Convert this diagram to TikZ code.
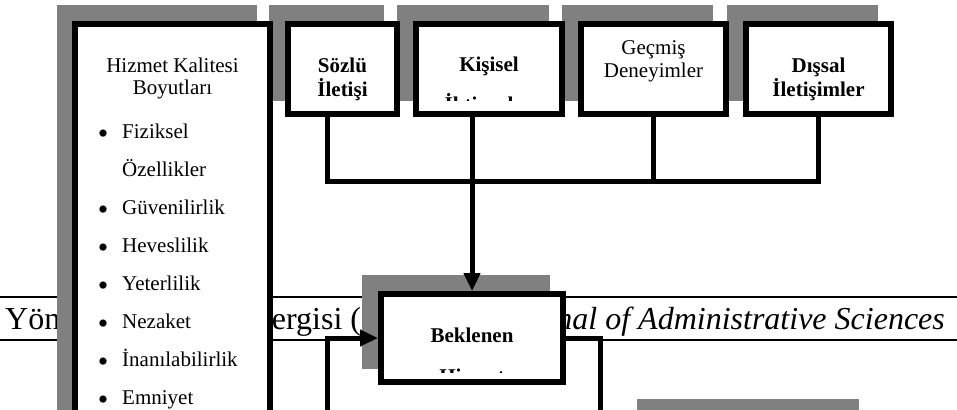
\documentclass[tikz,border=0pt]{standalone}
\usepackage{fontspec}
\setmainfont{Liberation Serif}
\usetikzlibrary{arrows.meta}
\definecolor{golgegri}{RGB}{128,128,128}
\tikzset{
	golge/.style={fill=golgegri},
	kutu/.style={draw, line width=6pt, fill=white, inner sep=0pt},
	yazi/.style={font=\fontsize{21}{24}\selectfont, anchor=base, inner sep=0pt},
	kalin/.style={yazi, font=\fontsize{21}{24}\selectfont\bfseries},
	hat/.style={line width=5pt},
}
\begin{document}
\begin{tikzpicture}[x=1pt, y=-1pt, >={Triangle[length=18pt,width=16pt]}]
		\useasboundingbox (0,0) rectangle (957,409);
		% dergi basligi
		\draw[line width=2pt] (0,297)--(957,297) (0,340)--(957,340);
		\node[anchor=base west, inner sep=0pt, font=\fontsize{32}{36}\selectfont] (dergi) at (5,329) {Yönetim Bilimleri Dergisi (};
		\node[anchor=base east, inner sep=0pt, font=\fontsize{32}{36}\selectfont\itshape] (journal) at (945,329) {Journal of Administrative Sciences};
		% golgeler
		\fill[golge] (57,5) rectangle (257,450);
		\foreach \xa/\xb in {285/400, 413/565, 578/729, 743/894}
		\fill[golge] (\xa-16,5) rectangle (\xb-16,101);
		\fill[golge] (362,275) rectangle (550,369);
		\fill[golge] (637,399) rectangle (859,420);
		% kutular
		\node[kutu, minimum width=195pt, minimum height=440pt, anchor=north west] (hiz) at (72,21) {};
		\foreach \ad/\xa/\xb in {soz/285/400, kis/413/565, gec/578/729, dis/743/894}
		\node[kutu, minimum width={\xb-\xa-6}, minimum height=90pt] (\ad) at ({(\xa+\xb)/2},69) {};
		\node[kutu, minimum width=182pt, minimum height=88pt] (bek) at (472,338) {};
		% hizmet kalitesi boyutlari
		\node[yazi] (hiz1) at (hiz.center |- 0,73) {Hizmet Kalitesi};
		\node[yazi] (hiz2) at (hiz.center |- 0,95) {Boyutları};
		\foreach \y/\ad [count=\i] in {138/Fiziksel, 214/Güvenilirlik, 252/Heveslilik, 290/Yeterlilik, 328/Nezaket, 366/İnanılabilirlik, 404/Emniyet}{
			\node[yazi, font=\fontsize{30}{30}\selectfont] (nokta\i) at (103,\y+5) {•};
			\node[yazi, anchor=base west] (boyut\i) at (122,\y) {\ad};
		}
		\node[yazi, anchor=base west] (ozel) at (122,176) {Özellikler};
		% ust kutularin yazilari
		\node[kalin] (soz1) at (soz.center |- 0,73) {Sözlü};
		\node[kalin] (soz2) at (soz.center |- 0,97) {İletişi};
		\node[kalin] (kis1) at (kis.center |- 0,72) {Kişisel};
		\begin{scope}
			\clip (kis.north west) rectangle (kis.east |- 0,101);
			\node[kalin] (kis2) at (kis.center |- 0,112) {İhtiyaçlar};
		\end{scope}
		\node[yazi] (gec1) at (gec.center |- 0,55) {Geçmiş};
		\node[yazi] (gec2) at (gec.center |- 0,78) {Deneyimler};
		\node[kalin] (dis1) at (dis.center |- 0,73) {Dışsal};
		\node[kalin] (dis2) at (dis.center |- 0,97) {İletişimler};
		\node[kalin] (bek1) at (bek.center |- 0,342) {Beklenen};
		\begin{scope}
			\clip (bek.north west) rectangle (bek.east |- 0,372);
			\node[kalin] (bek2) at (bek.center |- 0,383) {Hizmet};
		\end{scope}
		% baglantilar
		\coordinate (bara) at (0,181);
		\draw[hat] ([xshift=-15pt]soz.south) |- (bara -| dis.south) -- (dis.south);
		\draw[hat] (gec.south) -- (gec.south |- bara);
		\draw[hat,->] (kis.south -| bek.north) -- (bek.north);
		\coordinate (solalt) at (327,420);
		\draw[hat,->] (solalt) |- (bek.west);
		\coordinate (sagalt) at (600,420);
		\draw[hat] (bek.east) -| (sagalt);
\end{tikzpicture}
\end{document}
